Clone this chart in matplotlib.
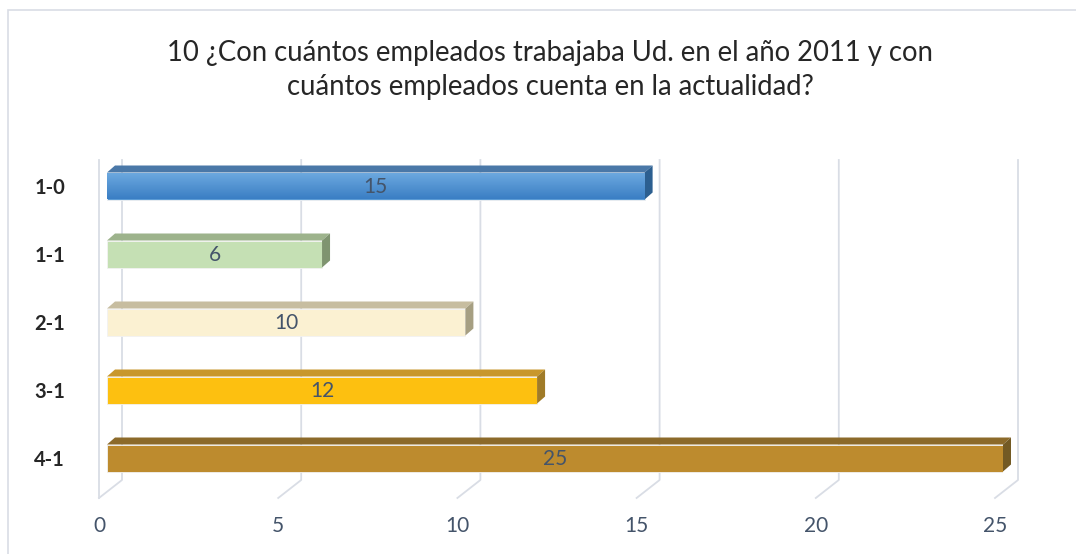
import numpy as np
import matplotlib.pyplot as plt
from matplotlib.patches import Polygon, Rectangle
from matplotlib.colors import LinearSegmentedColormap

plt.rcParams['font.family'] = ['Lato', 'DejaVu Sans']

# datos
categorias = ['1-0', '1-1', '2-1', '3-1', '4-1']
valores = [15, 6, 10, 12, 25]
ticks = [0, 5, 10, 15, 20, 25]
titulo = '10 ¿Con cuántos empleados trabajaba Ud. en el año 2011 y con\ncuántos empleados cuenta en la actualidad?'

# colores: cara frontal, cara superior, cara lateral
frente = ['#5b9bd5', '#c5e0b4', '#fbf1d2', '#fdc010', '#bd8b2e']
arriba = ['#4a78a8', '#9db38c', '#c7bda0', '#c8972c', '#8c6a2a']
lado = ['#2c5f90', '#7f9470', '#a69f82', '#a07b28', '#735a24']

W, H = 1076, 554
fig = plt.figure(figsize=(W / 100, H / 100), dpi=100)

# marco exterior
fig.patches.append(Rectangle((8 / W, -0.1), 1.2, (H - 10) / H + 0.1, transform=fig.transFigure,
                             fill=False, edgecolor='#d9dde5', linewidth=1.2))

# ejes: x=0 en el frente de las barras (px 107), x=25 en px 1003
px_x = (1003 - 107) / 25.0
px_y = 68.0
ax = fig.add_axes([107 / W, (H - 498) / H, 896 / W, 346 / H])
ax.set_xlim(0, 25)
ax.set_ylim((498 - 186) / px_y, (152 - 186) / px_y)
ax.axis('off')

gris = '#d9dde5'
y_top = (160 - 186) / px_y
y_back = (480 - 186) / px_y
y_front = (498 - 186) / px_y
dx_back = 15 / px_x
dx_front = -8 / px_x

# rejilla 3D (pared del fondo y suelo)
for t in ticks:
    xb = t + dx_back
    xf = t + dx_front
    ax.plot([xb, xb, xf], [y_top, y_back, y_front], color=gris, lw=1.3, clip_on=False, zorder=1)
ax.plot([dx_front, dx_front], [y_top, y_front], color=gris, lw=1.3, clip_on=False, zorder=1)

# degradado azul de la primera barra
cmap_azul = LinearSegmentedColormap.from_list('azul', ['#6eaae0', '#3a7ec4'])

# barras con efecto 3D
alto = 27 / px_y
ddx = 8 / px_x
ddy = -7 / px_y
pos = np.arange(len(categorias))
for i, v in enumerate(valores):
    y0 = pos[i] - alto / 2
    y1 = pos[i] + alto / 2
    barra = ax.barh(pos[i], v, height=alto, color=frente[i], edgecolor='#f2f2f2', linewidth=0.6, zorder=3)
    if i == 0:
        grad = np.linspace(0, 1, 64).reshape(-1, 1)
        im = ax.imshow(grad, extent=[0, v, y1, y0], origin='upper', cmap=cmap_azul,
                       aspect='auto', zorder=3.1)
        im.set_clip_path(barra.patches[0])
    top = [(0, y0), (v, y0), (v + ddx, y0 + ddy), (ddx, y0 + ddy)]
    side = [(v, y0), (v + ddx, y0 + ddy), (v + ddx, y1 + ddy), (v, y1)]
    ax.add_patch(Polygon(top, closed=True, facecolor=arriba[i], edgecolor='none', zorder=3, clip_on=False))
    ax.add_patch(Polygon(side, closed=True, facecolor=lado[i], edgecolor='none', zorder=3, clip_on=False))
    ax.text(v / 2, pos[i] + 0.02, str(v), ha='center', va='center', fontsize=15, color='#44546a', zorder=4)
    ax.text(-42 / px_x, pos[i] + 0.03, categorias[i], ha='right', va='center', fontsize=14.5,
            fontweight='bold', color='#262626', clip_on=False)

ax.set_xlim(0, 25)
ax.set_ylim((498 - 186) / px_y, (152 - 186) / px_y)

# etiquetas del eje x
for t in ticks:
    ax.text(t + dx_front, (526 - 186) / px_y, str(t), ha='center', va='center', fontsize=15,
            color='#44546a', clip_on=False)

fig.text(550 / W, 1 - 70 / H, titulo, ha='center', va='center', fontsize=19.8,
         color='#262626', linespacing=1.42)

fig.savefig('out.png', dpi=100)
